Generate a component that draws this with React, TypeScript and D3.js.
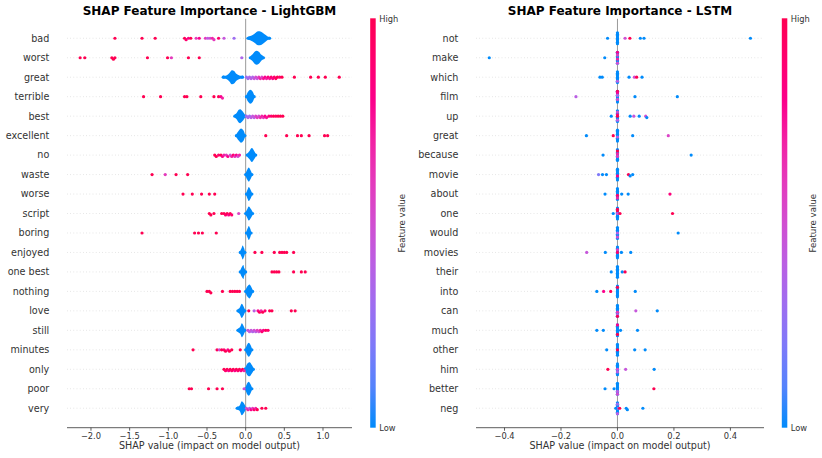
import React from 'react';
import * as d3 from 'd3';

// LightGBM: features in display order (most important first)
const lgbmFeatures = [
  'bad', 'worst', 'great', 'terrible', 'best', 'excellent', 'no', 'waste', 'worse', 'script',
  'boring', 'enjoyed', 'one best', 'nothing', 'love', 'still', 'minutes', 'only', 'poor', 'very',
];

// dense low-feature-value mass per feature: [shap value, relative stack height]
const lgbmBlobs: [number, number][][] = [
  [[0.03, 0.1], [0.07, 0.35], [0.11, 0.6], [0.15, 0.95], [0.18, 1], [0.22, 0.8], [0.26, 0.45], [0.29, 0.2], [0.31, 0.05]],
  [[0.06, 0.1], [0.09, 0.5], [0.12, 0.9], [0.14, 1], [0.17, 0.85], [0.2, 0.45], [0.23, 0.05]],
  [[-0.29, 0.1], [-0.25, 0.25], [-0.21, 0.6], [-0.18, 1], [-0.15, 0.9], [-0.12, 0.5], [-0.08, 0.25], [-0.04, 0.08]],
  [[0.01, 0.2], [0.03, 0.7], [0.06, 1], [0.09, 0.75], [0.11, 0.15]],
  [[-0.14, 0.1], [-0.12, 0.4], [-0.09, 0.9], [-0.07, 1], [-0.04, 0.7], [-0.01, 0.15]],
  [[-0.12, 0.15], [-0.09, 0.7], [-0.06, 1], [-0.03, 0.75], [-0.01, 0.1]],
  [[0.02, 0.15], [0.05, 0.6], [0.08, 1], [0.11, 0.6], [0.13, 0.1]],
  [[0.0, 0.2], [0.02, 0.7], [0.04, 1], [0.06, 0.7], [0.08, 0.15]],
  [[0.01, 0.2], [0.03, 0.8], [0.04, 1], [0.06, 0.7], [0.08, 0.1]],
  [[0.0, 0.15], [0.02, 0.6], [0.04, 1], [0.07, 0.6], [0.09, 0.1]],
  [[0.01, 0.2], [0.03, 0.8], [0.04, 1], [0.06, 0.6], [0.07, 0.1]],
  [[-0.07, 0.15], [-0.05, 0.7], [-0.04, 1], [-0.02, 0.6], [-0.01, 0.1]],
  [[-0.07, 0.15], [-0.05, 0.7], [-0.03, 1], [-0.02, 0.6], [0.0, 0.1]],
  [[0.0, 0.2], [0.02, 0.7], [0.05, 1], [0.07, 0.7], [0.09, 0.1]],
  [[-0.1, 0.1], [-0.08, 0.4], [-0.05, 1], [-0.03, 0.7], [-0.01, 0.15]],
  [[-0.1, 0.1], [-0.07, 0.5], [-0.05, 1], [-0.03, 0.7], [-0.01, 0.1]],
  [[0.0, 0.2], [0.02, 0.75], [0.04, 1], [0.06, 0.75], [0.08, 0.15]],
  [[0.0, 0.3], [0.02, 0.8], [0.05, 1], [0.08, 0.6], [0.1, 0.1]],
  [[0.0, 0.2], [0.02, 0.8], [0.04, 1], [0.06, 0.7], [0.08, 0.1]],
  [[-0.11, 0.1], [-0.08, 0.35], [-0.05, 1], [-0.03, 0.8], [0.0, 0.15]],
];

// individual samples: [shap value, feature value 0..1]
const lgbmPoints: [number, number][][] = [
  [[-1.69, 1], [-1.34, 1], [-1.17, 1], [-0.79, 1], [-0.77, 0.9], [-0.74, 0.8], [-0.71, 1], [-0.64, 0.6], [-0.6, 0.8],
    [-0.52, 0.6], [-0.49, 0.4], [-0.46, 0.5], [-0.43, 0.7], [-0.41, 0.6], [-0.35, 0.9], [-0.28, 0.45], [-0.15, 0.3]],
  [[-2.14, 1], [-2.08, 1], [-1.73, 1], [-1.71, 1], [-1.69, 1], [-1.27, 1], [-1.01, 1], [-0.96, 0.6], [-0.74, 1], [-0.6, 1], [-0.05, 0.35]],
  [[0.01, 0.3], [0.03, 0.3], [0.05, 0.35], [0.07, 0.4], [0.09, 0.35], [0.11, 0.45], [0.13, 0.5], [0.15, 0.45], [0.17, 0.6],
    [0.19, 0.7], [0.21, 0.55], [0.23, 0.75], [0.25, 0.8], [0.27, 0.7], [0.29, 0.85], [0.31, 0.75], [0.33, 0.9], [0.35, 0.8],
    [0.37, 0.9], [0.39, 0.95], [0.41, 1], [0.44, 0.9], [0.47, 1], [0.63, 1], [0.84, 1], [0.94, 1], [1.03, 1], [1.21, 1]],
  [[-1.32, 1], [-1.1, 1], [-0.79, 1], [-0.76, 1], [-0.58, 1], [-0.41, 1], [-0.35, 1], [-0.32, 0.8], [-0.3, 0.7]],
  [[0.01, 0.3], [0.03, 0.35], [0.05, 0.3], [0.07, 0.4], [0.09, 0.45], [0.11, 0.4], [0.13, 0.55], [0.15, 0.6], [0.17, 0.5],
    [0.19, 0.65], [0.21, 0.7], [0.23, 0.6], [0.25, 0.8], [0.27, 0.75], [0.3, 0.85], [0.33, 0.9], [0.36, 1], [0.39, 0.95],
    [0.42, 1], [0.45, 1], [0.48, 1]],
  [[0.26, 1], [0.53, 1], [0.67, 1], [0.72, 1], [0.82, 1], [1.02, 1], [1.06, 1]],
  [[-0.4, 1], [-0.38, 1], [-0.35, 0.9], [-0.32, 1], [-0.3, 0.8], [-0.28, 0.7], [-0.25, 0.6], [-0.23, 0.8], [-0.2, 0.5],
    [-0.18, 0.7], [-0.16, 0.9], [-0.14, 0.6], [-0.12, 0.8], [-0.1, 0.5], [-0.08, 0.7]],
  [[-1.21, 1], [-1.04, 0.6], [-0.9, 1], [-0.75, 1]],
  [[-0.81, 1], [-0.69, 1], [-0.57, 1], [-0.47, 1], [-0.4, 1]],
  [[-0.47, 1], [-0.45, 1], [-0.41, 1], [-0.31, 1], [-0.28, 1], [-0.26, 0.9], [-0.24, 1], [-0.22, 0.8], [-0.2, 1], [-0.18, 0.9], [-0.09, 0.55]],
  [[-1.34, 1], [-0.66, 1], [-0.61, 1], [-0.56, 1], [-0.38, 1]],
  [[0.12, 1], [0.21, 1], [0.37, 1], [0.44, 1], [0.47, 1], [0.5, 1], [0.53, 1], [0.62, 1]],
  [[0.34, 1], [0.37, 1], [0.4, 1], [0.43, 1], [0.62, 1], [0.72, 1], [0.77, 1]],
  [[-0.5, 1], [-0.47, 1], [-0.45, 1], [-0.3, 1], [-0.2, 1], [-0.17, 1], [-0.14, 1], [-0.11, 1], [-0.08, 1]],
  [[0.04, 1], [0.11, 0.4], [0.16, 0.8], [0.18, 1], [0.2, 0.7], [0.22, 1], [0.25, 0.9], [0.31, 1], [0.34, 1], [0.59, 1], [0.64, 1]],
  [[0.03, 0.5], [0.05, 0.4], [0.07, 0.45], [0.09, 0.35], [0.11, 0.5], [0.13, 0.4], [0.15, 0.6], [0.17, 0.5], [0.19, 0.7],
    [0.21, 0.9], [0.23, 0.8], [0.26, 1], [0.29, 0.9]],
  [[-0.68, 1], [-0.37, 1], [-0.34, 0.5], [-0.31, 1], [-0.28, 0.9], [-0.26, 1], [-0.23, 0.8], [-0.21, 1], [-0.18, 1], [-0.07, 1]],
  [[-0.28, 1], [-0.26, 0.9], [-0.24, 1], [-0.22, 0.8], [-0.2, 1], [-0.18, 0.9], [-0.16, 1], [-0.14, 0.8], [-0.12, 1],
    [-0.1, 0.9], [-0.08, 1], [-0.06, 0.8], [-0.04, 1], [-0.02, 0.7]],
  [[-0.73, 1], [-0.7, 1], [-0.48, 1], [-0.37, 1], [-0.3, 1], [-0.02, 0.5]],
  [[0.01, 0.5], [0.03, 0.7], [0.05, 0.4], [0.07, 0.8], [0.09, 0.6], [0.11, 0.9], [0.13, 0.7], [0.15, 1], [0.21, 1], [0.26, 1]],
];

const lgbmTicks = [-2.0, -1.5, -1.0, -0.5, 0.0, 0.5, 1.0];

// LSTM
const lstmFeatures = [
  'not', 'make', 'which', 'film', 'up', 'great', 'because', 'movie', 'about', 'one',
  'would', 'movies', 'their', 'into', 'can', 'much', 'other', 'him', 'better', 'neg',
];

// samples stacked on zero, top to bottom: feature value 0..1
const lstmColumns: number[][] = [
  [0, 0, 0, 0, 0, 0, 0, 0, 0],
  [0.8, 0, 0.6, 0, 0, 0.7, 0, 0, 0.5],
  [0, 0, 0, 0, 0, 0, 0, 0.4, 0],
  [1, 0.8, 0, 0.4, 0, 0, 0.5, 0, 0],
  [0, 0.5, 0, 0.8, 1, 0, 0, 0.4, 0],
  [0, 0, 0, 0, 0, 0.4, 0, 0, 0],
  [0, 1, 0, 0.7, 0, 0.6, 0, 0, 0],
  [0, 0, 0, 0, 0, 0.8, 0, 0, 0],
  [0, 0, 0, 0, 0, 0.9, 0, 0.7, 0],
  [0, 1, 1, 0, 0.5, 0, 0, 0, 0],
  [0, 0, 0, 0, 0.4, 0, 0, 0.5, 0],
  [0, 0, 0.6, 0, 0.9, 0, 0, 0, 0],
  [0, 0, 0, 0, 0, 0, 0, 0, 0],
  [0, 1, 0, 0, 0, 0, 0, 0, 0],
  [0, 0, 0, 0, 0, 0.6, 0, 0.4, 1],
  [0.8, 0, 0, 0, 0, 0, 0, 1, 0],
  [0, 0, 0, 0, 1, 0, 0, 0, 0],
  [0, 0, 0, 0, 0.5, 0, 0.4, 0, 0],
  [0, 0, 0, 0, 0, 0, 0.4, 0, 0.5],
  [0, 0.3, 0, 0, 0.4, 0, 0, 0, 0.4],
];

const lstmPoints: [number, number][][] = [
  [[-0.035, 0], [0.027, 0.5], [0.044, 1], [0.081, 0], [0.094, 0], [0.471, 0]],
  [[-0.454, 0], [-0.045, 0]],
  [[-0.062, 0], [-0.054, 0], [0.041, 0], [0.06, 0.5], [0.068, 1], [0.087, 0]],
  [[-0.147, 0.4], [0.062, 0], [0.212, 0]],
  [[-0.022, 0], [0.045, 0], [0.058, 0.45], [0.077, 0], [0.1, 0.5], [0.104, 0]],
  [[-0.11, 0], [-0.015, 1], [0.054, 0], [0.18, 0.55]],
  [[-0.051, 0], [0.261, 0]],
  [[-0.067, 0.2], [-0.053, 0], [-0.039, 0], [0.039, 1], [0.045, 0], [0.054, 0]],
  [[-0.044, 0], [0.015, 0], [0.038, 0], [0.186, 0.85]],
  [[-0.015, 0], [0.009, 1], [0.195, 1]],
  [[0.215, 0]],
  [[-0.109, 0.45], [-0.043, 0], [0.014, 0], [0.047, 0]],
  [[-0.022, 0], [0.017, 0], [0.027, 1]],
  [[-0.073, 0], [-0.049, 0.8], [-0.024, 1], [0.063, 0]],
  [[0.065, 0.45], [0.141, 0]],
  [[-0.073, 0], [-0.05, 0], [0.011, 0], [0.071, 0]],
  [[-0.038, 0], [0.061, 0], [0.098, 0]],
  [[-0.034, 1], [0.029, 0.45], [0.13, 0]],
  [[-0.044, 0], [-0.012, 0], [0.129, 1]],
  [[-0.006, 0], [0.008, 1], [0.031, 0], [0.035, 0], [0.09, 0]],
];

const lstmTicks = [-0.4, -0.2, 0.0, 0.2, 0.4];

const FONT = 'DejaVu Sans, sans-serif';
const BLUE = '#008bfb';
const PINK = '#ff0052';
const DOT_R = 1.6;

const featureColor = d3.scaleLinear<string>()
  .domain([0, 1])
  .range([BLUE, PINK])
  .interpolate(d3.interpolateHcl);

const fmt = d3.format('.1f');

interface PanelProps {
  id: string;
  title: string;
  features: string[];
  points: [number, number][][];
  blobs?: [number, number][][];
  columns?: number[][];
  domain: [number, number];
  ticks: number[];
  left: number;
  right: number;
  top: number;
  bottom: number;
  barX: number;
}

// simple deterministic beeswarm: put each dot in the nearest free lane
function swarm(xs: number[], pitch: number, minGap: number): number[] {
  const placed: { x: number; lane: number }[] = [];
  const lanes: number[] = [];
  xs.forEach(x => {
    for (let k = 0; k < 20; k++) {
      const lane = k === 0 ? 0 : (k % 2 === 1 ? (k + 1) / 2 : -k / 2);
      const hit = placed.some(p => p.lane === lane && Math.abs(p.x - x) < minGap);
      if (!hit) {
        placed.push({ x, lane });
        lanes.push(lane * pitch);
        return;
      }
    }
    lanes.push(0);
  });
  return lanes;
}

const Panel: React.FC<PanelProps> = ({
  id, title, features, points, blobs, columns, domain, ticks, left, right, top, bottom, barX,
}) => {
  const n = features.length;
  const x = d3.scaleLinear().domain(domain).range([left, right]);
  const y = d3.scaleLinear().domain([-1, n]).range([bottom, top]);
  const rowY = (i: number) => y(n - 1 - i);
  const rowStep = y(0) - y(1);
  const maxH = rowStep * 0.36;

  const barW = 5.5;
  const gradId = `fv-${id}`;
  const stops = d3.range(0, 1.0001, 0.1);

  return (
    <g>
      <defs>
        <linearGradient id={gradId} x1="0" x2="0" y1="1" y2="0">
          {stops.map(s => (
            <stop key={s} offset={`${s * 100}%`} stopColor={featureColor(s)} />
          ))}
        </linearGradient>
      </defs>

      <text x={(left + right) / 2} y={15} textAnchor="middle" fontFamily={FONT} fontWeight="bold"
        fontSize={12} fill="#000">{title}</text>

      {/* dotted row guides */}
      {features.map((f, i) => (
        <line key={`g-${f}`} x1={left} x2={right} y1={rowY(i)} y2={rowY(i)}
          stroke="#cccccc" strokeWidth={0.6} strokeDasharray="0.8 2.4" />
      ))}

      <line x1={x(0)} x2={x(0)} y1={top} y2={bottom} stroke="#999999" strokeWidth={1} />

      {/* dense low-value mass */}
      {blobs && blobs.map((b, i) => {
        const cy = rowY(i);
        const h = (d: [number, number]) => Math.max(DOT_R, d[1] * maxH);
        const area = d3.area<[number, number]>()
          .x(d => x(d[0]))
          .y0(d => cy - h(d))
          .y1(d => cy + h(d))
          .curve(d3.curveCatmullRom);
        const first = b[0];
        const last = b[b.length - 1];
        return (
          <g key={`b-${i}`} fill={BLUE}>
            <path d={area(b) || ''} />
            <circle cx={x(first[0])} cy={cy} r={h(first)} />
            <circle cx={x(last[0])} cy={cy} r={h(last)} />
          </g>
        );
      })}

      {/* samples stacked on zero */}
      {columns && columns.map((c, i) => {
        const cy = rowY(i);
        const step = (2 * maxH - 2 * DOT_R) / (c.length - 1);
        return (
          <g key={`c-${i}`}>
            {c.map((_, j) => (
              <circle key={`cb-${j}`} cx={x(0)} cy={cy - maxH + DOT_R + j * step} r={DOT_R} fill={BLUE} />
            ))}
            {c.map((v, j) => v > 0 ? (
              <circle key={`cc-${j}`} cx={x(0)} cy={cy - maxH + DOT_R + j * step} r={DOT_R} fill={featureColor(v)} />
            ) : null)}
          </g>
        );
      })}

      {/* scattered samples */}
      {points.map((row, i) => {
        const cy = rowY(i);
        const sorted = [...row].sort((a, b) => a[0] - b[0]);
        const offs = swarm(sorted.map(d => x(d[0])), 1.4, 1.9);
        return (
          <g key={`p-${i}`}>
            {sorted.map((d, j) => (
              <circle key={j} cx={x(d[0])} cy={cy + offs[j]} r={DOT_R} fill={featureColor(d[1])} />
            ))}
          </g>
        );
      })}

      {/* feature names */}
      {features.map((f, i) => (
        <text key={`l-${f}`} x={left - 17.7} y={rowY(i)} dy="0.35em" textAnchor="end"
          fontFamily={FONT} fontSize={9.6} fill="#333333">{f}</text>
      ))}

      {/* x axis */}
      <line x1={left} x2={right} y1={bottom} y2={bottom} stroke="#333333" strokeWidth={0.8} />
      {ticks.map(t => (
        <g key={`t-${t}`}>
          <line x1={x(t)} x2={x(t)} y1={bottom} y2={bottom + 3} stroke="#333333" strokeWidth={0.8} />
          <text x={x(t)} y={bottom + 11} textAnchor="middle" fontFamily={FONT} fontSize={8.3}
            fill="#333333">{fmt(t)}</text>
        </g>
      ))}
      <text x={(left + right) / 2} y={bottom + 21.5} textAnchor="middle" fontFamily={FONT}
        fontSize={9.6} fill="#333333">SHAP value (impact on model output)</text>

      {/* colour bar */}
      <rect x={barX} y={top - 0.5} width={barW} height={bottom - top + 0.5} fill={`url(#${gradId})`} />
      <text x={barX + barW + 3.5} y={top} dy="0.35em" fontFamily={FONT} fontSize={8.3} fill="#333333">High</text>
      <text x={barX + barW + 3.5} y={bottom} dy="0.35em" fontFamily={FONT} fontSize={8.3} fill="#333333">Low</text>
      <text transform={`translate(${barX + 31.5}, ${(top + bottom) / 2}) rotate(-90)`} textAnchor="middle"
        dy="0.35em" fontFamily={FONT} fontSize={8.6} fill="#333333">Feature value</text>
    </g>
  );
};

export default function App() {
  return (
    <svg width={822} height={458} style={{ position: 'absolute', left: 0, top: 0, background: '#fff' }}>
      <rect width={822} height={458} fill="#fff" />
      <Panel
        id="lgbm"
        title="SHAP Feature Importance - LightGBM"
        features={lgbmFeatures}
        points={lgbmPoints}
        blobs={lgbmBlobs}
        domain={[-2.31, 1.375]}
        ticks={lgbmTicks}
        left={67}
        right={352}
        top={18.8}
        bottom={427.7}
        barX={370.2}
      />
      <Panel
        id="lstm"
        title="SHAP Feature Importance - LSTM"
        features={lstmFeatures}
        points={lstmPoints}
        columns={lstmColumns}
        domain={[-0.501, 0.519]}
        ticks={lstmTicks}
        left={476}
        right={764}
        top={18.8}
        bottom={427.7}
        barX={781.8}
      />
    </svg>
  );
}
